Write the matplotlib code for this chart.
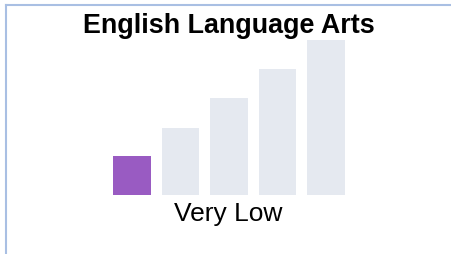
import matplotlib
matplotlib.use('Agg')
import matplotlib.pyplot as plt
from matplotlib.lines import Line2D

title = 'English Language Arts'
label = 'Very Low'
levels = ['Very Low', 'Low', 'Mid', 'High', 'Very High']
heights = [39, 67, 97, 126, 155]
active = 0

purple = '#995bc2'
grey = '#e5e9f0'
frame = '#a9bfe3'

plt.rcParams['font.family'] = ['Liberation Sans', 'DejaVu Sans']

fig = plt.figure(figsize=(4.51, 2.54), dpi=100)

# bars live in an axes sized so one data unit is one pixel vertically
ax = fig.add_axes([107.75 / 451, 59 / 254, 242.5 / 451, 170 / 254])
colors = [purple if i == active else grey for i in range(len(levels))]
ax.bar(range(len(levels)), heights, width=0.78, color=colors)
ax.set_xlim(-0.5, len(levels) - 0.5)
ax.set_ylim(0, 170)
ax.axis('off')

fig.text(229 / 451, 1 - 33 / 254, title, ha='center', va='baseline',
         fontsize=19.4, fontweight='bold')
fig.text(228 / 451, 1 - 221 / 254, label, ha='center', va='baseline',
         fontsize=19)

# light blue frame on top and left
fig.add_artist(Line2D([5.5 / 451, 5.5 / 451], [0, 1 - 5 / 254],
                      color=frame, lw=1.5, transform=fig.transFigure))
fig.add_artist(Line2D([5.5 / 451, 1], [1 - 5 / 254, 1 - 5 / 254],
                      color=frame, lw=1.5, transform=fig.transFigure))

fig.savefig('out.png', dpi=100)
